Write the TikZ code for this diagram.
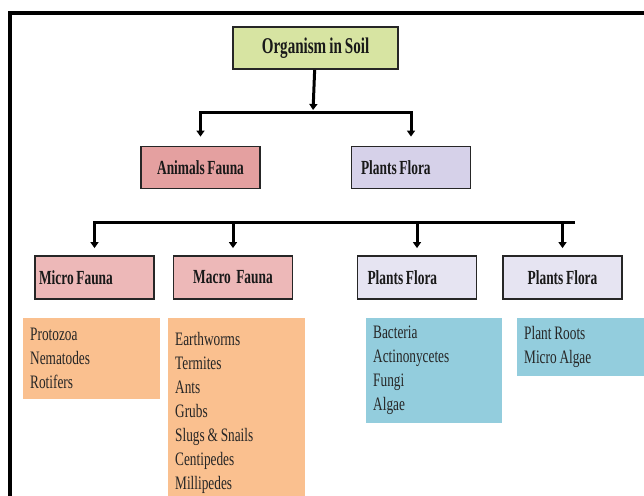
\documentclass[tikz,border=0pt]{standalone}
\usepackage{fontspec}
\setmainfont{Liberation Serif}
\newfontfamily\headfont{Liberation Serif}[FakeStretch=0.67,WordSpace=0.8]
\newfontfamily\listfont{Liberation Serif}[FakeStretch=0.7,WordSpace=0.85]
\usetikzlibrary{arrows.meta}
\definecolor{rootgreen}{HTML}{D7E4A2}
\definecolor{faunapink}{HTML}{E4A0A0}
\definecolor{floralilac}{HTML}{D6D1E9}
\definecolor{subpink}{HTML}{EDB8B8}
\definecolor{sublilac}{HTML}{E6E4F2}
\definecolor{listorange}{HTML}{FAC08F}
\definecolor{listblue}{HTML}{93CDDD}

\begin{document}
\begin{tikzpicture}[x=1pt,y=-1pt,>={Triangle[length=6pt,width=8pt]},
	head/.style={draw=black!85,line width=1.8pt,inner sep=0pt,minimum width=119pt,minimum height=42pt,text=black!90,font=\headfont\bfseries\fontsize{20}{22}\selectfont},
	list/.style={anchor=north west,inner sep=7pt,align=flush left,text=black!85,font=\listfont\fontsize{19}{24}\selectfont},
	link/.style={line width=3pt}]
	
	\useasboundingbox (0,0) rectangle (644,495);
	\draw [line width=3.5pt] (10,500) -- (10,13) -- (650,13);
	
	\node [head,fill=rootgreen,minimum width=165pt,font=\headfont\bfseries\fontsize{22.5}{24}\selectfont] (root) at (315.5,48) {Organism in Soil};
	\node [head,fill=faunapink] (fauna) at (200.5,167.5) {Animals Fauna};
	\node [head,fill=floralilac,text width=100pt,align=flush left] (flora) at (411,167.5) {Plants Flora};
	
	\coordinate (fork1) at (313,112);
	\draw [link,->,shorten >=2pt] (root) -- (fork1);
	\draw [link,line cap=rect] (fauna |- fork1) -- (flora |- fork1);
	\foreach \n in {fauna,flora} {
		\draw [link,->,shorten >=9pt] (\n |- fork1) -- (\n);
	}
	
	\node [head,fill=subpink,minimum height=43pt,text width=111pt,align=flush left] (microfauna) at (94.5,277.5) {Micro Fauna};
	\node [head,fill=subpink,minimum height=43pt] (macrofauna) at (233,277.5) {Macro~ Fauna};
	\node [head,fill=sublilac,minimum height=43pt,text width=99pt,align=flush left] (floraa) at (417,277.5) {Plants Flora};
	\node [head,fill=sublilac,minimum height=43pt] (florab) at (562.5,277.5) {Plants Flora};
	
	\coordinate (fork2) at (300,222);
	\draw [link,line cap=rect,shorten >=-11pt] (microfauna |- fork2) -- (florab |- fork2);
	\foreach \n in {microfauna,macrofauna,floraa,florab} {
		\draw [link,->,shorten >=7pt] (\n |- fork2) -- (\n);
	}
	
	\node [list,fill=listorange,text width=123pt,minimum height=81pt] (microlist) at (23,318) {Protozoa\\Nematodes\\Rotifers};
	\node [list,fill=listorange,text width=123pt,minimum height=190pt] (macrolist) at (168,318) {Earthworms\\Termites\\Ants\\Grubs\\Slugs \& Snails\\Centipedes\\Millipedes};
	\node [list,fill=listblue,text width=122pt,minimum height=105pt] (floraalist) at (366,318) {Bacteria\\Actinonycetes\\Fungi\\Algae};
	\node [list,fill=listblue,text width=113pt,minimum height=58pt] (florablist) at (517,318) {Plant Roots\\Micro Algae};
\end{tikzpicture}
\end{document}
